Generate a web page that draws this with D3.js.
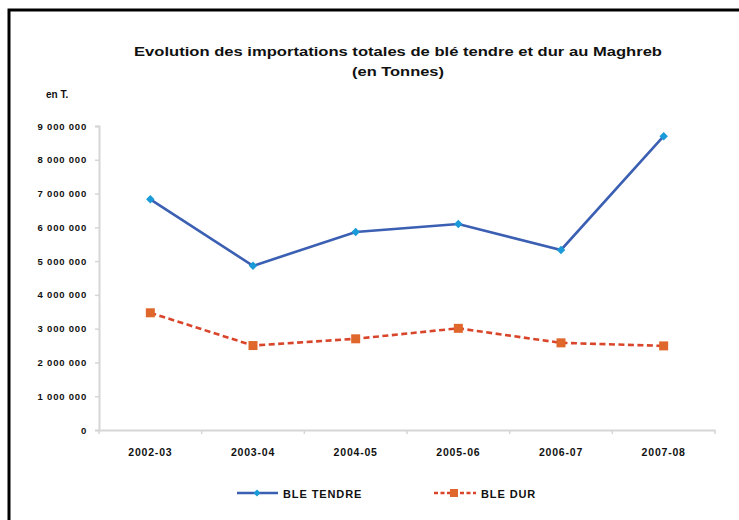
<!DOCTYPE html>
<html>
<head>
<meta charset="utf-8">
<script src="https://cdn.jsdelivr.net/npm/d3@7.9.0/dist/d3.min.js"></script>
<style>
  body { margin: 0; background: #fff; }
  svg text { font-family: "Liberation Sans", Arial, sans-serif; font-weight: bold; fill: #111; }
</style>
</head>
<body>
<svg id="chart" width="739" height="520"></svg>
<script>
// data
const seasons = ['2002-03', '2003-04', '2004-05', '2005-06', '2006-07', '2007-08'];
const bleTendre = [6830000, 4860000, 5860000, 6100000, 5330000, 8700000];
const bleDur = [3470000, 2500000, 2700000, 3010000, 2580000, 2490000];
const yTicks = [0, 1000000, 2000000, 3000000, 4000000, 5000000, 6000000, 7000000, 8000000, 9000000];

const svg = d3.select('#chart');

// outer frame (only top and left visible in the picture)
svg.append('path')
  .attr('d', 'M9,520 V10 H739')
  .attr('fill', 'none')
  .attr('stroke', '#000')
  .attr('stroke-width', 3);

const x = d3.scaleBand().domain(seasons).range([99, 715]);
const y = d3.scaleLinear().domain([0, 9000000]).range([430, 126]);

const fmt = v => v === 0 ? '0' : d3.format(',')(v).replace(/,/g, ' ');

// title
svg.append('text').attr('x', 398).attr('y', 56).attr('text-anchor', 'middle')
  .style('font-size', '13px').attr('textLength', 528).attr('lengthAdjust', 'spacingAndGlyphs')
  .text('Evolution des importations totales de blé tendre et dur au Maghreb');
svg.append('text').attr('x', 398).attr('y', 76).attr('text-anchor', 'middle')
  .style('font-size', '13px').attr('textLength', 92).attr('lengthAdjust', 'spacingAndGlyphs')
  .text('(en Tonnes)');
svg.append('text').attr('x', 46).attr('y', 98)
  .style('font-size', '10px').text('en T.');

// y axis
const yAxis = svg.append('g').attr('transform', 'translate(99,0)')
  .call(d3.axisLeft(y).tickValues(yTicks).tickFormat(fmt).tickSize(4).tickPadding(8));
yAxis.select('.domain').attr('stroke', '#d6d6d6').attr('stroke-width', 2);
yAxis.selectAll('.tick line').attr('stroke', '#d6d6d6').attr('stroke-width', 1.5);
yAxis.selectAll('.tick text')
  .style('font-size', '9.5px').style('font-family', '"Liberation Sans", Arial, sans-serif')
  .style('font-weight', 'bold').attr('fill', '#111').attr('letter-spacing', 0.8);

// x axis
const xAxis = svg.append('g').attr('transform', 'translate(0,430)')
  .call(d3.axisBottom(x).tickSize(0).tickPadding(19));
xAxis.select('.domain').attr('stroke', '#d6d6d6').attr('stroke-width', 2);
xAxis.selectAll('.tick text')
  .style('font-size', '10.5px').style('font-family', '"Liberation Sans", Arial, sans-serif')
  .style('font-weight', 'bold').attr('fill', '#111').attr('letter-spacing', 0.8);
// small marks between categories
xAxis.selectAll('.sep')
  .data(seasons.concat(['end']))
  .join('line')
  .attr('x1', (d, i) => x.range()[0] + i * x.step())
  .attr('x2', (d, i) => x.range()[0] + i * x.step())
  .attr('y1', 0).attr('y2', 4)
  .attr('stroke', '#d6d6d6').attr('stroke-width', 1.5);

const cx = d => x(d) + x.bandwidth() / 2;
const line = d3.line().x((d, i) => cx(seasons[i])).y(d => y(d));

const blueLine = '#3b5fb2', blueMark = '#1a9ad8';
const redLine = '#d9452b', redMark = '#e0672b';

// BLE TENDRE
svg.append('path').datum(bleTendre)
  .attr('d', line).attr('fill', 'none')
  .attr('stroke', blueLine).attr('stroke-width', 2.6);
const diamond = d3.symbol().type(d3.symbolSquare).size(36);
svg.selectAll('.mt').data(bleTendre).join('path')
  .attr('class', 'mt')
  .attr('d', diamond)
  .attr('transform', (d, i) => `translate(${cx(seasons[i])},${y(d)}) rotate(45)`)
  .attr('fill', blueMark);

// BLE DUR
svg.append('path').datum(bleDur)
  .attr('d', line).attr('fill', 'none')
  .attr('stroke', redLine).attr('stroke-width', 2.6)
  .attr('stroke-dasharray', '6,3.5');
svg.selectAll('.md').data(bleDur).join('rect')
  .attr('class', 'md')
  .attr('x', (d, i) => cx(seasons[i]) - 4.5)
  .attr('y', d => y(d) - 4.5)
  .attr('width', 9).attr('height', 9)
  .attr('fill', redMark);

// legend
const legend = svg.append('g');
legend.append('line').attr('x1', 237).attr('x2', 278).attr('y1', 493).attr('y2', 493)
  .attr('stroke', blueLine).attr('stroke-width', 2.6);
legend.append('path').attr('d', d3.symbol().type(d3.symbolSquare).size(25))
  .attr('transform', 'translate(257,493) rotate(45)').attr('fill', blueMark);
legend.append('text').attr('x', 283).attr('y', 497.5)
  .style('font-size', '11px').attr('letter-spacing', 0.9).text('BLE TENDRE');

legend.append('line').attr('x1', 434).attr('x2', 476).attr('y1', 493).attr('y2', 493)
  .attr('stroke', redLine).attr('stroke-width', 2.6).attr('stroke-dasharray', '4,2.5');
legend.append('rect').attr('x', 450).attr('y', 489).attr('width', 8).attr('height', 8)
  .attr('fill', redMark);
legend.append('text').attr('x', 481).attr('y', 497.5)
  .style('font-size', '11px').attr('letter-spacing', 0.9).text('BLE DUR');
</script>
</body>
</html>
